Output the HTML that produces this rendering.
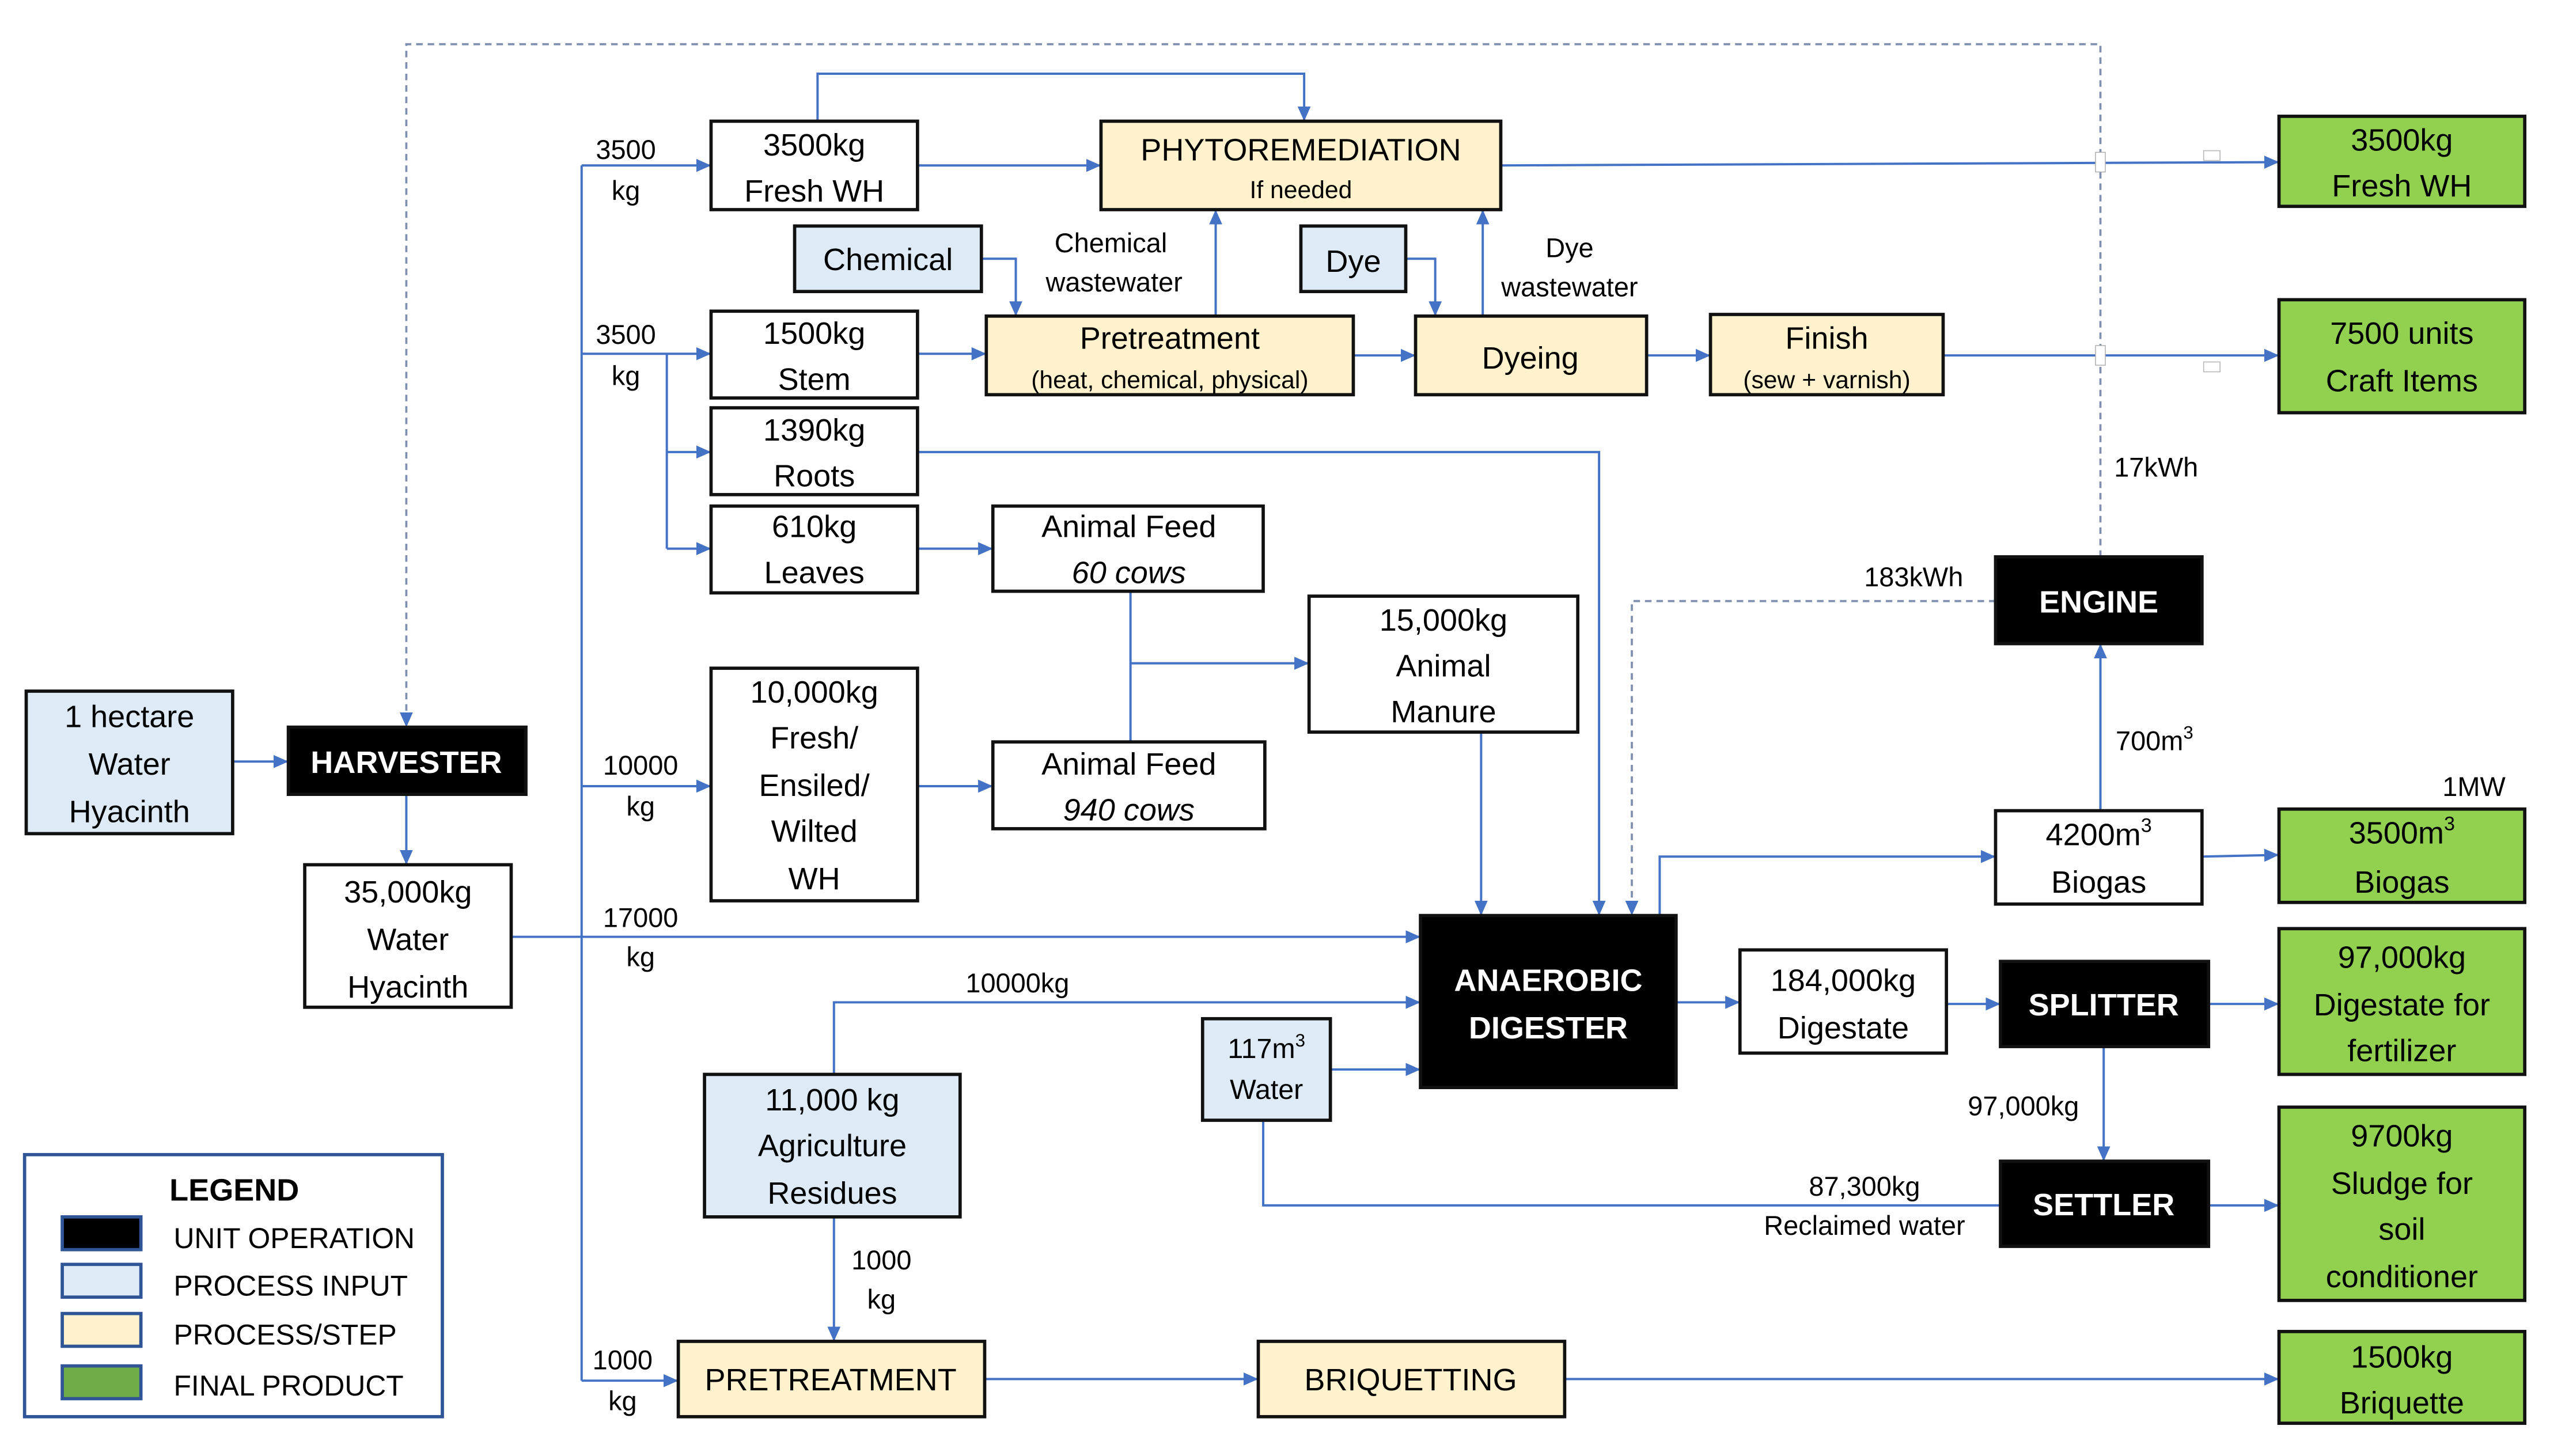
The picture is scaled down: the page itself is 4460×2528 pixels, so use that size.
<!DOCTYPE html>
<html><head><meta charset="utf-8"><style>
html,body{margin:0;padding:0;background:#fff;width:4460px;height:2528px;overflow:hidden}
svg{display:block}
text{font-family:"Liberation Sans",sans-serif;fill:#000}
.b{font-size:19px}
.s{font-size:15px}
.l{font-size:16.5px}
.w{fill:#fff;font-weight:bold;font-size:19px}
.ln{stroke:#4472c4;stroke-width:1.4;fill:none}
.dl{stroke:#7f8fb0;stroke-width:1.3;fill:none;stroke-dasharray:4,3}
.bx{stroke:#111;stroke-width:2}
</style></head><body>
<svg width="4460" height="2528" viewBox="0 0 1568 889" preserveAspectRatio="none" xmlns="http://www.w3.org/2000/svg">
<defs><marker id="a" markerWidth="10" markerHeight="10" refX="9" refY="4" orient="auto" markerUnits="userSpaceOnUse"><path d="M0,0 L9,4 L0,8 z" fill="#4472c4"/></marker></defs>
<rect width="1568" height="889" fill="#fff"/>

<!-- connectors -->
<path class="dl" d="M1282,340 V27 H248 V444" marker-end="url(#a)"/>
<path class="ln" d="M142,465 H176" marker-end="url(#a)"/>
<path class="ln" d="M248,485 V528" marker-end="url(#a)"/>
<path class="ln" d="M312,572 H355 M355,101 V843"/>
<path class="ln" d="M355,101 H434" marker-end="url(#a)"/>
<path class="ln" d="M355,216 H434" marker-end="url(#a)"/>
<path class="ln" d="M355,480 H434" marker-end="url(#a)"/>
<path class="ln" d="M355,572 H867" marker-end="url(#a)"/>
<path class="ln" d="M355,843 H414" marker-end="url(#a)"/>
<path class="ln" d="M407,216 V335"/>
<path class="ln" d="M407,276 H434" marker-end="url(#a)"/>
<path class="ln" d="M407,335 H434" marker-end="url(#a)"/>
<path class="ln" d="M560,101 H672" marker-end="url(#a)"/>
<path class="ln" d="M499,74 V45 H796 V74" marker-end="url(#a)"/>
<path class="ln" d="M916,101 L1391,99" marker-end="url(#a)"/>
<path class="ln" d="M560,216 H602" marker-end="url(#a)"/>
<path class="ln" d="M599,158 H620 V193" marker-end="url(#a)"/>
<path class="ln" d="M742,193 V128" marker-end="url(#a)"/>
<path class="ln" d="M826,217 H864" marker-end="url(#a)"/>
<path class="ln" d="M858,158 H876 V193" marker-end="url(#a)"/>
<path class="ln" d="M905,193 V128" marker-end="url(#a)"/>
<path class="ln" d="M1005,217 H1044" marker-end="url(#a)"/>
<path class="ln" d="M1186,217 H1391" marker-end="url(#a)"/>
<path class="ln" d="M560,276 H976 V559" marker-end="url(#a)"/>
<path class="ln" d="M560,335 H606" marker-end="url(#a)"/>
<path class="ln" d="M690,361 V453"/>
<path class="ln" d="M690,405 H799" marker-end="url(#a)"/>
<path class="ln" d="M560,480 H606" marker-end="url(#a)"/>
<path class="ln" d="M904,447 V559" marker-end="url(#a)"/>
<path class="dl" d="M1218,367 H996 V559" marker-end="url(#a)"/>
<path class="ln" d="M1282,495 V393" marker-end="url(#a)"/>
<path class="ln" d="M1013,559 V523 H1218" marker-end="url(#a)"/>
<path class="ln" d="M1344,523 L1391,522" marker-end="url(#a)"/>
<path class="ln" d="M1023,612 H1062" marker-end="url(#a)"/>
<path class="ln" d="M1188,613 H1221" marker-end="url(#a)"/>
<path class="ln" d="M1348,613 H1391" marker-end="url(#a)"/>
<path class="ln" d="M1284,639 V709" marker-end="url(#a)"/>
<path class="ln" d="M1348,736 H1391" marker-end="url(#a)"/>
<path class="ln" d="M1221,736 H771 V684"/>
<path class="ln" d="M812,653 H867" marker-end="url(#a)"/>
<path class="ln" d="M509,656 V612 H867" marker-end="url(#a)"/>
<path class="ln" d="M509,743 V819" marker-end="url(#a)"/>
<path class="ln" d="M601,842 H768" marker-end="url(#a)"/>
<path class="ln" d="M955,842 H1391" marker-end="url(#a)"/>
<!-- hops -->
<rect x="1279" y="93" width="6" height="12" fill="#fff" stroke="#aaa" stroke-width="0.5"/>
<rect x="1279" y="211" width="6" height="12" fill="#fff" stroke="#aaa" stroke-width="0.5"/>
<rect x="1345" y="92" width="10" height="6" fill="#fff" stroke="#bbb" stroke-width="0.6"/>
<rect x="1345" y="221" width="10" height="6" fill="#fff" stroke="#bbb" stroke-width="0.6"/>

<!-- boxes -->
<g class="bx">
<rect x="16" y="422" width="126" height="87" fill="#deebf7"/>
<rect x="176" y="444" width="145" height="41" fill="#000"/>
<rect x="186" y="528" width="126" height="87" fill="#fff"/>
<rect x="434" y="74" width="126" height="54" fill="#fff"/>
<rect x="672" y="74" width="244" height="54" fill="#fff2cc"/>
<rect x="485" y="138" width="114" height="40" fill="#deebf7"/>
<rect x="794" y="138" width="64" height="40" fill="#deebf7"/>
<rect x="434" y="190" width="126" height="53" fill="#fff"/>
<rect x="602" y="193" width="224" height="48" fill="#fff2cc"/>
<rect x="864" y="193" width="141" height="48" fill="#fff2cc"/>
<rect x="1044" y="192" width="142" height="49" fill="#fff2cc"/>
<rect x="434" y="249" width="126" height="53" fill="#fff"/>
<rect x="434" y="309" width="126" height="53" fill="#fff"/>
<rect x="606" y="309" width="165" height="52" fill="#fff"/>
<rect x="799" y="364" width="164" height="83" fill="#fff"/>
<rect x="434" y="408" width="126" height="142" fill="#fff"/>
<rect x="606" y="453" width="166" height="53" fill="#fff"/>
<rect x="867" y="559" width="156" height="105" fill="#000"/>
<rect x="734" y="622" width="78" height="62" fill="#deebf7"/>
<rect x="430" y="656" width="156" height="87" fill="#deebf7"/>
<rect x="1062" y="580" width="126" height="63" fill="#fff"/>
<rect x="1221" y="587" width="127" height="52" fill="#000"/>
<rect x="1221" y="709" width="127" height="52" fill="#000"/>
<rect x="1218" y="340" width="126" height="53" fill="#000"/>
<rect x="1218" y="495" width="126" height="57" fill="#fff"/>
<rect x="414" y="819" width="187" height="46" fill="#fff2cc"/>
<rect x="768" y="819" width="187" height="46" fill="#fff2cc"/>
<rect x="1391" y="71" width="150" height="55" fill="#92d050"/>
<rect x="1391" y="183" width="150" height="69" fill="#92d050"/>
<rect x="1391" y="494" width="150" height="57" fill="#92d050"/>
<rect x="1391" y="567" width="150" height="89" fill="#92d050"/>
<rect x="1391" y="676" width="150" height="118" fill="#92d050"/>
<rect x="1391" y="813" width="150" height="56" fill="#92d050"/>
</g>

<!-- box text -->
<g class="b" text-anchor="middle">
<text x="79" y="444">1 hectare</text><text x="79" y="473">Water</text><text x="79" y="502">Hyacinth</text>
<text x="249" y="551">35,000kg</text><text x="249" y="580">Water</text><text x="249" y="609">Hyacinth</text>
<text x="497" y="95">3500kg</text><text x="497" y="123">Fresh WH</text>
<text x="794" y="98">PHYTOREMEDIATION</text><text x="794" y="121" class="s">If needed</text>
<text x="542" y="165">Chemical</text>
<text x="826" y="166">Dye</text>
<text x="497" y="210">1500kg</text><text x="497" y="238">Stem</text>
<text x="714" y="213">Pretreatment</text><text x="714" y="237" class="s">(heat, chemical, physical)</text>
<text x="934" y="225">Dyeing</text>
<text x="1115" y="213">Finish</text><text x="1115" y="237" class="s">(sew + varnish)</text>
<text x="497" y="269">1390kg</text><text x="497" y="297">Roots</text>
<text x="497" y="328">610kg</text><text x="497" y="356">Leaves</text>
<text x="689" y="328">Animal Feed</text><text x="689" y="356" font-style="italic">60 cows</text>
<text x="881" y="385">15,000kg</text><text x="881" y="413">Animal</text><text x="881" y="441">Manure</text>
<text x="497" y="429">10,000kg</text><text x="497" y="457">Fresh/</text><text x="497" y="486">Ensiled/</text><text x="497" y="514">Wilted</text><text x="497" y="543">WH</text>
<text x="689" y="473">Animal Feed</text><text x="689" y="501" font-style="italic">940 cows</text>
<text x="773" y="646" font-size="17">117m<tspan font-size="11" dy="-7">3</tspan></text><text x="773" y="671" font-size="17">Water</text>
<text x="508" y="678">11,000 kg</text><text x="508" y="706">Agriculture</text><text x="508" y="735">Residues</text>
<text x="1125" y="605">184,000kg</text><text x="1125" y="634">Digestate</text>
<text x="1281" y="516">4200m<tspan font-size="12" dy="-8">3</tspan></text><text x="1281" y="545">Biogas</text>
<text x="507" y="849">PRETREATMENT</text>
<text x="861" y="849">BRIQUETTING</text>
<text x="1466" y="92">3500kg</text><text x="1466" y="120">Fresh WH</text>
<text x="1466" y="210">7500 units</text><text x="1466" y="239">Craft Items</text>
<text x="1466" y="515">3500m<tspan font-size="12" dy="-8">3</tspan></text><text x="1466" y="545">Biogas</text>
<text x="1466" y="591">97,000kg</text><text x="1466" y="620">Digestate for</text><text x="1466" y="648">fertilizer</text>
<text x="1466" y="700">9700kg</text><text x="1466" y="729">Sludge for</text><text x="1466" y="757">soil</text><text x="1466" y="786">conditioner</text>
<text x="1466" y="835">1500kg</text><text x="1466" y="863">Briquette</text>
</g>
<g text-anchor="middle">
<text class="w" x="248" y="472">HARVESTER</text>
<text class="w" x="945" y="605">ANAEROBIC</text><text class="w" x="945" y="634">DIGESTER</text>
<text class="w" x="1284" y="620">SPLITTER</text>
<text class="w" x="1284" y="742">SETTLER</text>
<text class="w" x="1281" y="374">ENGINE</text>
</g>

<!-- labels -->
<g class="l" text-anchor="middle">
<text x="382" y="97">3500</text><text x="382" y="122">kg</text>
<text x="382" y="210">3500</text><text x="382" y="235">kg</text>
<text x="391" y="473">10000</text><text x="391" y="498">kg</text>
<text x="391" y="566">17000</text><text x="391" y="590">kg</text>
<text x="380" y="836">1000</text><text x="380" y="861">kg</text>
<text x="678" y="154">Chemical</text><text x="680" y="178">wastewater</text>
<text x="958" y="157">Dye</text><text x="958" y="181">wastewater</text>
<text x="621" y="606">10000kg</text>
<text x="538" y="775">1000</text><text x="538" y="799">kg</text>
<text x="1316" y="291">17kWh</text>
<text x="1168" y="358">183kWh</text>
<text x="1315" y="458">700m<tspan font-size="11" dy="-7">3</tspan></text>
<text x="1510" y="486">1MW</text>
<text x="1235" y="681">97,000kg</text>
<text x="1138" y="730">87,300kg</text>
<text x="1138" y="754">Reclaimed water</text>
</g>

<!-- legend -->
<rect x="15" y="705" width="255" height="160" fill="#fff" stroke="#2f5597" stroke-width="2"/>
<text x="143" y="733" text-anchor="middle" font-weight="bold" font-size="19">LEGEND</text>
<g stroke="#2f5597" stroke-width="2">
<rect x="38" y="743" width="48" height="20" fill="#000"/>
<rect x="38" y="772" width="48" height="20" fill="#deebf7"/>
<rect x="38" y="802" width="48" height="20" fill="#fff2cc"/>
<rect x="38" y="834" width="48" height="20" fill="#70ad47"/>
</g>
<g font-size="17.5">
<text x="106" y="762">UNIT OPERATION</text>
<text x="106" y="791">PROCESS INPUT</text>
<text x="106" y="821">PROCESS/STEP</text>
<text x="106" y="852">FINAL PRODUCT</text>
</g>
</svg>
</body></html>
